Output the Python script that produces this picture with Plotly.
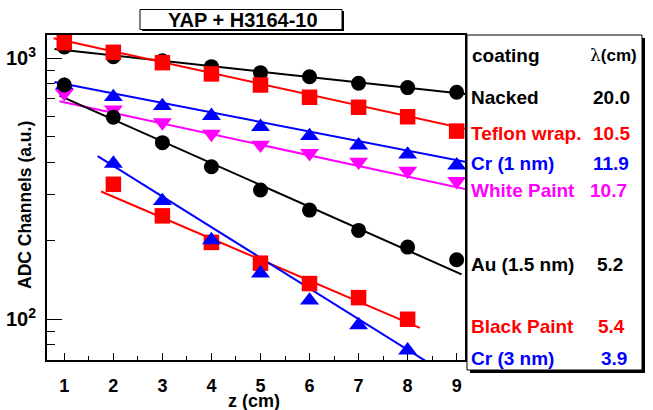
import numpy as np
import plotly.graph_objects as go

W, H = 653, 410
L, R, T, B = 47, 465, 35, 360  # plot frame in pixels

z = [1, 2, 3, 4, 5, 6, 7, 8, 9]
z_short = [2, 3, 4, 5, 6, 7, 8]
nacked = [1105, 1014, 979, 929, 881, 850, 802, 772, 741]
teflon = [1148, 1054, 962, 871, 790, 709, 649, 597, 526]
cr1 = [788, 711, 657, 602, 546, 504, 464, 428, 389]
white = [735, 635, 568, 513, 466, 433, 401, 370, 338]
au = [790, 594, 475, 384, 313, 262, 219, 189, 169]
black_paint = [329, 249, 197, 164, 137, 121, 100]
cr3 = [395, 284, 201, 150, 118, 95, 76]

coatings = ["Nacked", "Teflon wrap.", "Cr (1 nm)", "White Paint",
            "Au (1.5 nm)", "Black Paint", "Cr (3 nm)"]
lambdas = ["20.0", "10.5", "11.9", "10.7", "5.2", "5.4", "3.9"]
colors = ["black", "#ff0000", "#0000ff", "#ff00ff", "black", "#ff0000", "#0000ff"]
symbols = ["circle", "square", "triangle-up", "triangle-down", "circle", "square", "triangle-up"]
msizes = [15, 15.5, 16.5, 16.5, 15, 15.5, 16.5]
xs = [z, z, z, z, z, z_short, z_short]
ys = [nacked, teflon, cr1, white, au, black_paint, cr3]

# exponential fits  A*exp(-z/tau) drawn over [from, to]
fit_amp = [1128, 1285, 868, 744, 855, 427, 664]
fit_tau = [21, 10.5, 11.9, 10.7, 5.2, 5.4, 3.7]
fit_from = [0.8, 0.78, 0.8, 0.9, 0.9, 1.75, 1.68]
fit_to = [9.2, 9.2, 9.2, 9.2, 9.1, 8.25, 8.4]

FONT = "Liberation Sans, Arial, Helvetica, sans-serif"

fig = go.Figure()
for i in range(7):
    fx = np.array([fit_from[i], fit_to[i]])
    fy = fit_amp[i] * np.exp(-fx / fit_tau[i])
    fig.add_trace(go.Scatter(x=fx, y=fy, mode="lines",
                             line=dict(color=colors[i], width=2),
                             showlegend=False, hoverinfo="skip"))
for i in range(7):
    fig.add_trace(go.Scatter(x=xs[i], y=ys[i], mode="markers",
                             marker=dict(symbol=symbols[i], size=msizes[i], color=colors[i],
                                         line=dict(width=0)),
                             showlegend=False, cliponaxis=True))

def px(x):
    return (x - L) / (R - L)

def py(y):
    return (B - y) / (B - T)

shapes = []
# legend pave shadow + box
shapes.append(dict(type="rect", xref="paper", yref="paper",
                   x0=px(470), x1=px(645), y0=py(373), y1=py(38),
                   fillcolor="black", line=dict(width=0), layer="above"))
shapes.append(dict(type="rect", xref="paper", yref="paper",
                   x0=px(467), x1=px(642), y0=py(370), y1=py(35),
                   fillcolor="white", line=dict(color="black", width=1), layer="above"))
# title box
shapes.append(dict(type="rect", xref="paper", yref="paper",
                   x0=px(142), x1=px(344), y0=py(31), y1=py(11),
                   fillcolor="black", line=dict(width=0), layer="above"))
shapes.append(dict(type="rect", xref="paper", yref="paper",
                   x0=px(140), x1=px(342), y0=py(29.5), y1=py(9.5),
                   fillcolor="white", line=dict(color="black", width=1), layer="above"))

ann = []
ann.append(dict(text="YAP + H3164-10", x=px(243), y=py(20), xref="paper", yref="paper",
                showarrow=False, xanchor="center", yanchor="middle",
                font=dict(family=FONT, size=20, color="black", weight="bold")))
ann.append(dict(text="ADC Channels (a.u.)", x=px(25), y=py(205), xref="paper", yref="paper",
                showarrow=False, textangle=-90, xanchor="center", yanchor="middle",
                font=dict(family=FONT, size=17.5, color="black", weight="bold")))
ann.append(dict(text="z (cm)", x=px(254), y=py(401), xref="paper", yref="paper",
                showarrow=False, xanchor="center", yanchor="middle",
                font=dict(family=FONT, size=18, color="black", weight="bold")))
ann.append(dict(text="coating", x=px(470), y=py(55), xref="paper", yref="paper",
                showarrow=False, xanchor="left", yanchor="middle",
                font=dict(family=FONT, size=19, color="black", weight="bold")))
ann.append(dict(text="<span style='font-family:DejaVu Serif;font-weight:normal'>λ</span>(cm)",
                x=px(639), y=py(55), xref="paper", yref="paper",
                showarrow=False, xanchor="right", yanchor="middle",
                font=dict(family=FONT, size=17, color="black", weight="bold")))

row_y = [97, 133, 163, 190, 264, 326, 358]
val_right = [632, 632, 631, 629, 625, 627, 629]
for i in range(7):
    ann.append(dict(text=coatings[i], x=px(469), y=py(row_y[i]), xref="paper", yref="paper",
                    showarrow=False, xanchor="left", yanchor="middle",
                    font=dict(family=FONT, size=19, color=colors[i], weight="bold")))
    ann.append(dict(text=lambdas[i], x=px(val_right[i]), y=py(row_y[i]), xref="paper", yref="paper",
                    showarrow=False, xanchor="right", yanchor="middle",
                    font=dict(family=FONT, size=19, color=colors[i], weight="bold")))

fig.update_layout(
    width=W, height=H,
    margin=dict(l=L, r=W - R, t=T, b=H - B, pad=0, autoexpand=False),
    paper_bgcolor="white", plot_bgcolor="white",
    shapes=shapes, annotations=ann, showlegend=False,
    xaxis=dict(range=[0.647, 9.17], showgrid=False, zeroline=False, automargin=False,
               showline=True, linecolor="black", linewidth=2, mirror=True,
               tickvals=z, ticktext=[str(v) for v in z],
               ticks="inside", ticklen=7, tickcolor="black", tickwidth=1,
               ticklabelstandoff=8,
               tickfont=dict(family=FONT, size=18, color="black", weight="bold"),
               minor=dict(dtick=0.5, tick0=0.5, ticks="inside", ticklen=4,
                          tickcolor="black", showgrid=False)),
    yaxis=dict(type="log", range=[np.log10(69.8), np.log10(1228)], showgrid=False,
               zeroline=False, automargin=False,
               showline=True, linecolor="black", linewidth=2, mirror=True,
               tickvals=[100, 1000], ticktext=["10<sup>2</sup>", "10<sup>3</sup>"],
               ticks="inside", ticklen=15, tickcolor="black", tickwidth=1,
               ticklabelstandoff=5,
               tickfont=dict(family=FONT, size=20, color="black", weight="bold"),
               minor=dict(tickvals=[70, 80, 90, 200, 300, 400, 500, 600, 700, 800, 900],
                          ticks="inside", ticklen=8, tickcolor="black", showgrid=False)),
)

fig.write_html("out.html", config={"displayModeBar": False},
               post_script="document.body.style.margin='0';document.body.style.padding='0';")
